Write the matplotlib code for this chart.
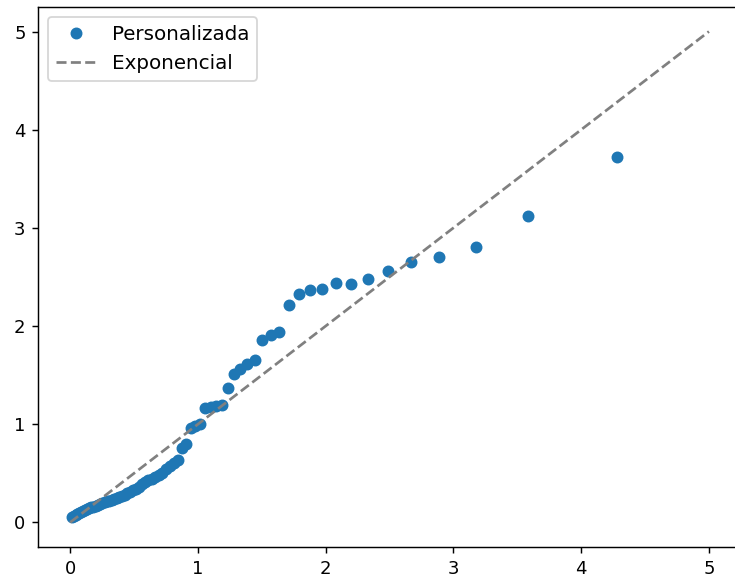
import matplotlib
matplotlib.use("Agg")
import matplotlib.pyplot as plt

# cuantiles teoricos (exponencial) vs. cuantiles de la muestra
x_teo = [0.014, 0.028, 0.043, 0.057, 0.072, 0.087, 0.102, 0.118, 0.134, 0.150,
         0.166, 0.182, 0.199, 0.216, 0.234, 0.251, 0.269, 0.288, 0.306, 0.325,
         0.345, 0.365, 0.385, 0.405, 0.427, 0.448, 0.470, 0.492, 0.515, 0.539,
         0.563, 0.588, 0.613, 0.639, 0.666, 0.693, 0.721, 0.750, 0.780, 0.811,
         0.843, 0.875, 0.909, 0.944, 0.981, 1.019, 1.058, 1.099, 1.141, 1.186,
         1.232, 1.281, 1.332, 1.386, 1.443, 1.504, 1.569, 1.638, 1.712, 1.792,
         1.879, 1.974, 2.079, 2.197, 2.331, 2.485, 2.667, 2.890, 3.178, 3.584,
         4.277]
y_obs = [0.06, 0.07, 0.08, 0.09, 0.10, 0.11, 0.12, 0.13, 0.14, 0.15,
         0.155, 0.16, 0.17, 0.18, 0.19, 0.20, 0.21, 0.215, 0.22, 0.23,
         0.24, 0.25, 0.26, 0.27, 0.28, 0.30, 0.31, 0.33, 0.34, 0.36,
         0.39, 0.41, 0.43, 0.44, 0.46, 0.48, 0.50, 0.54, 0.57, 0.60,
         0.64, 0.76, 0.80, 0.96, 0.98, 1.00, 1.17, 1.18, 1.19, 1.20,
         1.37, 1.51, 1.56, 1.61, 1.65, 1.86, 1.91, 1.94, 2.21, 2.33,
         2.37, 2.38, 2.44, 2.43, 2.48, 2.56, 2.65, 2.70, 2.80, 3.12,
         3.72]
ref = [0, 5]

fig = plt.figure(figsize=(735 / 130, 580 / 130), dpi=130)
ax = fig.add_subplot(111)
# el eje derecho queda un poco fuera del recorte
fig.subplots_adjust(left=0.052, right=1.008, top=0.988, bottom=0.057)

ax.plot(x_teo, y_obs, 'o', markersize=5.6, label='Personalizada')
ax.plot(ref, ref, '--', color='gray', label='Exponencial')
ax.legend(loc='upper left', fontsize=11)

fig.savefig('out.png', dpi=130)
